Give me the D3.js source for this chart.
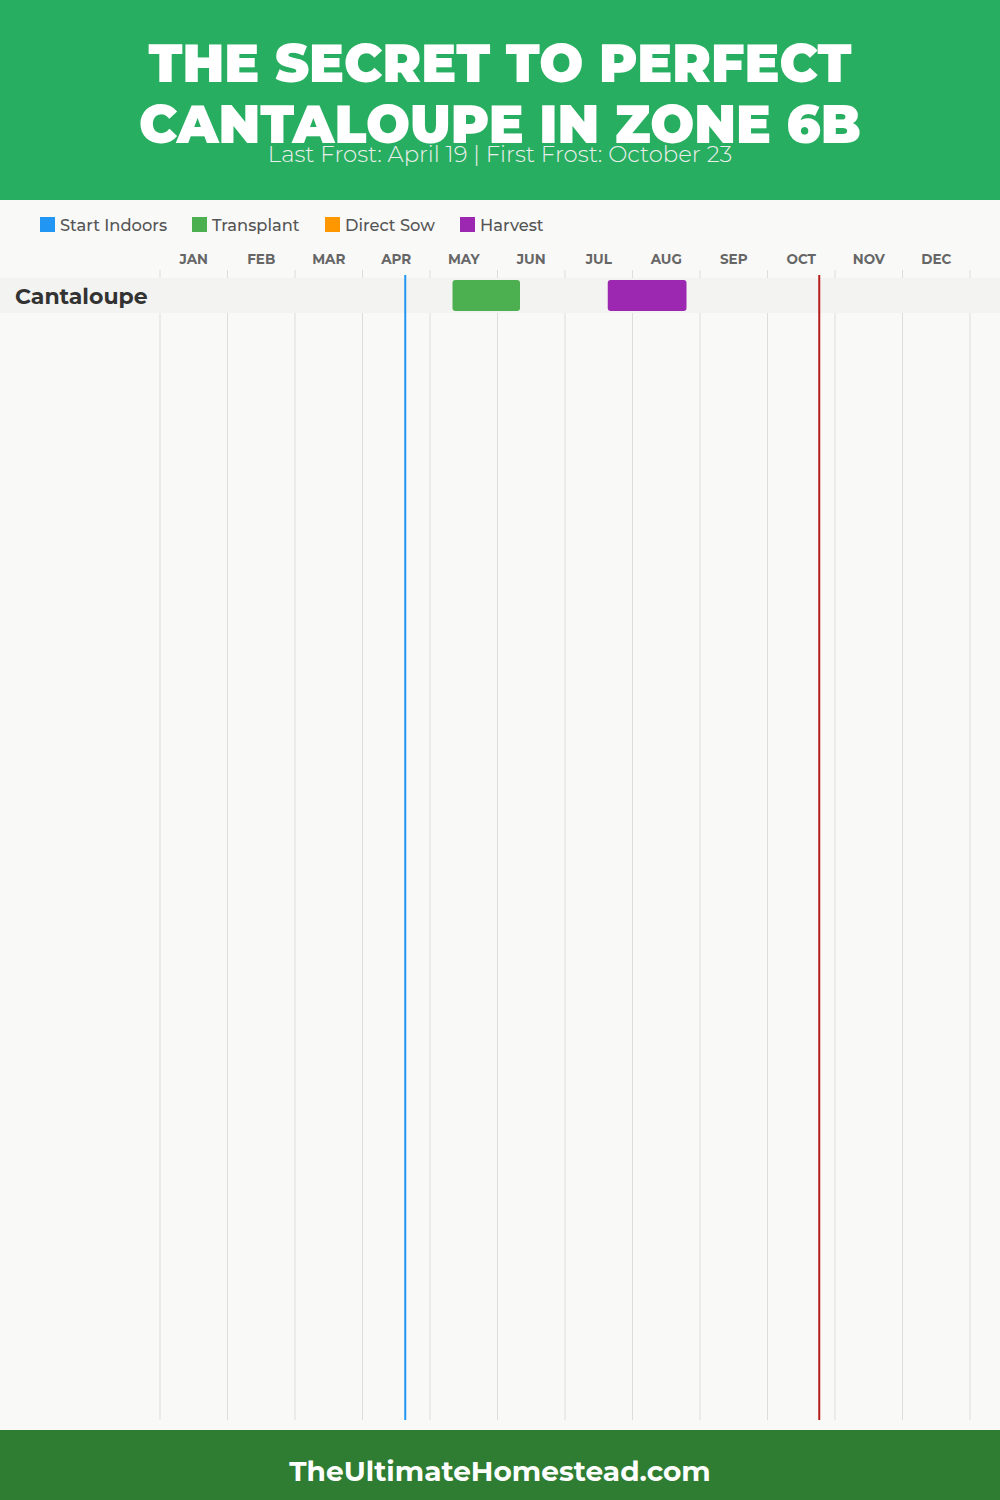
<!DOCTYPE html>
<html><head><meta charset="utf-8">
<script src="https://cdn.jsdelivr.net/npm/d3@7"></script>
<style>body{margin:0;background:#f9f9f8}svg{display:block}</style>
</head><body>
<script>
const months = ["JAN","FEB","MAR","APR","MAY","JUN","JUL","AUG","SEP","OCT","NOV","DEC"];
const crops = ["Cantaloupe"];
const legendItems = ["Start Indoors","Transplant","Direct Sow","Harvest"];
const legendColors = ["#2196f3","#4caf50","#ff9800","#9c27b0"];
// tasks: [crop, type, startMonth(1-12), startDay, endMonth, endDay]
const tasks = [
  ["Cantaloupe","Transplant",5,10,6,10],
  ["Cantaloupe","Harvest",7,19,8,24]
];
const lastFrost = [4,19];
const firstFrost = [10,23];
const titleLines = ["THE SECRET TO PERFECT","CANTALOUPE IN ZONE 6B"];
const subtitle = "Last Frost: April 19 | First Frost: October 23";
const footer = "TheUltimateHomestead.com";

const W=1000,H=1500;
const svg=d3.select("body").append("svg").attr("width",W).attr("height",H);
svg.append("rect").attr("width",W).attr("height",H).attr("fill","#f9f9f8");
// header
svg.append("rect").attr("width",W).attr("height",200).attr("fill","#27ae60");
const tf="Montserrat, 'Open Sans', Lato, sans-serif";
svg.selectAll("text.title").data(titleLines).join("text").attr("class","title")
  .attr("x",500).attr("y",(d,i)=>82+i*61).attr("text-anchor","middle")
  .attr("font-family",tf).attr("font-weight",900).attr("font-size",54)
  .attr("fill","#fff").attr("textLength",(d,i)=>[703,722][i]).attr("lengthAdjust","spacingAndGlyphs").text(d=>d);
svg.append("text").attr("x",500).attr("y",162).attr("text-anchor","middle")
  .attr("font-family",tf).attr("font-weight",300).attr("font-size",22.8).attr("fill","#eeeeee")
  .text(subtitle);

// legend
const lf="Montserrat, 'Open Sans', sans-serif";
const legX=[40,192,325,460];
const lg=svg.selectAll("g.leg").data(legendItems).join("g").attr("class","leg")
  .attr("transform",(d,i)=>`translate(${legX[i]},217)`);
lg.append("rect").attr("width",15).attr("height",15).attr("fill",(d,i)=>legendColors[i]);
lg.append("text").attr("x",20).attr("y",13.5).attr("font-family",lf).attr("font-weight",500).attr("font-size",16.3).attr("fill","#555").text(d=>d);

// scales
const x=d3.scaleLinear().domain([0,12]).range([160,970]);
const pos=(m,d)=>x(m-1+d/30);
const y=d3.scaleBand().domain(crops).range([278,313]);

// month labels
svg.selectAll("text.mon").data(months).join("text").attr("class","mon")
  .attr("x",(d,i)=>x(i+0.5)).attr("y",264).attr("text-anchor","middle")
  .attr("font-family",lf).attr("font-weight",700).attr("font-size",13.5).attr("fill","#666").text(d=>d);

// gridlines
svg.selectAll("line.grid").data(d3.range(13)).join("line").attr("class","grid")
  .attr("x1",d=>x(d)).attr("x2",d=>x(d)).attr("y1",270).attr("y2",1420)
  .attr("stroke","#dddddd").attr("stroke-width",1);

// row bands
svg.selectAll("rect.band").data(crops).join("rect").attr("class","band")
  .attr("x",0).attr("width",W).attr("y",d=>y(d)).attr("height",y.bandwidth()).attr("fill","#f3f3f2");
svg.selectAll("text.crop").data(crops).join("text").attr("class","crop")
  .attr("x",15).attr("y",d=>y(d)+y.bandwidth()/2+8).attr("font-family",lf).attr("font-weight",700)
  .attr("font-size",22).attr("fill","#333").text(d=>d);

// bars
const colorOf=t=>legendColors[legendItems.indexOf(t)];
svg.selectAll("rect.bar").data(tasks).join("rect").attr("class","bar")
  .attr("x",d=>pos(d[2],d[3])).attr("width",d=>pos(d[4],d[5])-pos(d[2],d[3]))
  .attr("y",d=>y(d[0])+2).attr("height",y.bandwidth()-4).attr("rx",3)
  .attr("fill",d=>colorOf(d[1]));

// frost lines
svg.append("line").attr("x1",pos(...lastFrost)).attr("x2",pos(...lastFrost)).attr("y1",275).attr("y2",1420)
  .attr("stroke","#2196f3").attr("stroke-width",2);
svg.append("line").attr("x1",pos(...firstFrost)).attr("x2",pos(...firstFrost)).attr("y1",275).attr("y2",1420)
  .attr("stroke","#b71c1c").attr("stroke-width",2);

// footer
svg.append("rect").attr("y",1430).attr("width",W).attr("height",70).attr("fill","#2e7d32");
svg.append("text").attr("x",500).attr("y",1481).attr("text-anchor","middle").attr("font-family",lf)
  .attr("font-weight",700).attr("font-size",28).attr("fill","#fff").text(footer);
</script>
</body></html>
